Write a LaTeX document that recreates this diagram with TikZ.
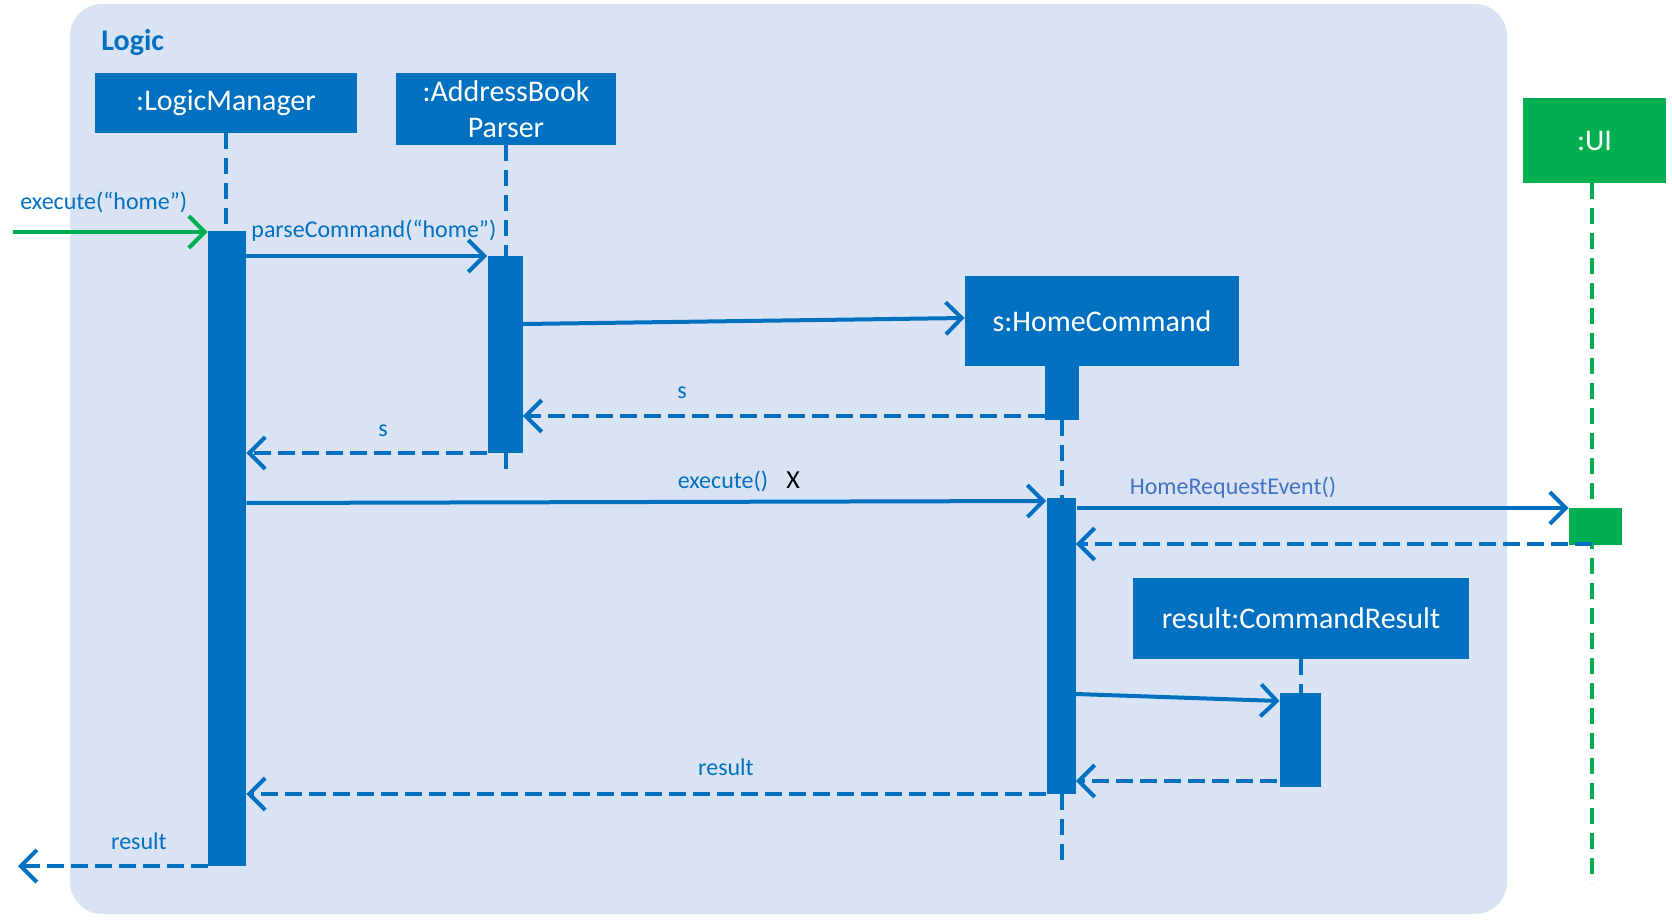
\documentclass[tikz,border=0pt]{standalone}
\usepackage{fontspec}
\setmainfont{Carlito}
\usetikzlibrary{arrows.meta,calc}
\definecolor{blu}{HTML}{0070C0}
\definecolor{bgc}{HTML}{DAE3F3}
\definecolor{grn}{HTML}{00B050}
\definecolor{evc}{HTML}{4472C4}
\begin{document}
\begin{tikzpicture}[x=0.5pt,y=-0.5pt,
 obj/.style={fill=blu, text=white, inner sep=0pt, font=\fontsize{15}{18}\selectfont, align=center},
 uiobj/.style={obj, fill=grn},
 act/.style={fill=blu, inner sep=0pt},
 uiact/.style={fill=grn, inner sep=0pt},
 life/.style={blu, line width=2pt, dash pattern=on 8pt off 4.5pt},
 uilife/.style={life, grn},
 tip/.style={-{Straight Barb[length=8pt,width=16pt,line width=2pt]}},
 msg/.style={blu, line width=2pt, tip},
 ret/.style={msg, line width=2.3pt, dash pattern=on 8.5pt off 3.5pt},
 lbl/.style={text=blu, font=\fontsize{12}{14}\selectfont, inner sep=0pt}
]
\useasboundingbox (0,0) rectangle (1672,922);
% frame
\node (frame) [fill=bgc, rounded corners=16pt, minimum width=718.5pt, minimum height=455pt, inner sep=0pt] at (788.5,459) {};
\node (logic) [anchor=west, text=blu, font=\fontsize{15}{18}\selectfont\bfseries, inner sep=0pt] at (101,43) {Logic};

% objects
\node (lm) [obj, minimum width=131pt, minimum height=30pt] at (226,103) {:LogicManager};
\node (ab) [obj, minimum width=110pt, minimum height=36pt] at (506,109) {:AddressBook\\Parser};
\node (hc) [obj, minimum width=137pt, minimum height=45pt] at (1102,321) {s:HomeCommand};
\node (cr) [obj, minimum width=168pt, minimum height=40.5pt] at (1301,618.5) {result:CommandResult};
\node (ui) [uiobj, minimum width=71.5pt, minimum height=42.5pt] at (1594.5,140.5) {:UI};

% lifeline ends
\coordinate (abEnd) at (506,474);
\coordinate (hcEnd) at (1062,866);
\coordinate (uiTop) at (1592,183);
\coordinate (uiEnd) at (1592,883);

% lifelines
\draw[life] (lm.south) -- (226,240);
\draw[life] (ab.south) -- (506,300);
\draw[life] (506,453) -- (abEnd);
\draw[life] (1062,420) -- (1062,505);
\draw[life] (1062,794) -- (hcEnd);
\draw[life] (cr.south) -- (1301,700);
\draw[uilife] (uiTop) -- (uiEnd);

% activations
\node (lmA) [act, minimum width=19pt, minimum height=317.5pt] at (227,548.5) {};
\node (abA) [act, minimum width=17.5pt, minimum height=98.5pt] at (505,354.5) {};
\node (hcA1) [act, minimum width=17pt, minimum height=27pt] at (1062,393) {};
\node (hcA2) [act, minimum width=14.5pt, minimum height=148pt] at (1061,646) {};
\node (uiA) [uiact, minimum width=26.5pt, minimum height=18.5pt] at (1595.5,526.5) {};
\node (crA) [act, minimum width=20.5pt, minimum height=47pt] at (1300.5,740) {};

% free ends
\coordinate (inStart) at (13,232);
\coordinate (outEnd) at (18,866);

% messages
\draw[grn, line width=2pt, tip] (inStart) -- (lmA.west |- inStart);
\node[lbl, anchor=west] at (20,202) {execute(“home”)};

\draw[msg] (lmA.east |- 0,256) -- (abA.west |- 0,256);
\node[lbl, anchor=west] at (251,231) {parseCommand(“home”)};

\draw[msg] (abA.east |- 0,324) -- (hc.west |- 0,318);

\draw[ret] (hcA1.west |- 0,416) -- (abA.east |- 0,416);
\node[lbl] at (682,393) {s};

\draw[ret] (abA.west |- 0,453) -- (lmA.east |- 0,453);
\node[lbl] at (383,431) {s};

\draw[msg] (lmA.east |- 0,503) -- (hcA2.west |- 0,501);
\node[lbl] at (723,481) {execute()};
\node[font=\fontsize{13}{15}\selectfont, inner sep=0pt] at (793,480) {X};

\draw[msg] (1077,508) -- (uiA.west |- 0,508);
\node[lbl, text=evc] at (1233,488) {HomeRequestEvent()};

\draw[ret] (uiTop |- 0,544) -- (hcA2.east |- 0,544);

\draw[msg] (hcA2.east |- 0,694) -- (crA.west |- 0,701);

\draw[ret] (1277,781) -- (hcA2.east |- 0,781);

\draw[ret] (hcA2.west |- 0,794) -- (lmA.east |- 0,794);
\node[lbl] at (726,767) {result};

\draw[ret] (lmA.west |- outEnd) -- (outEnd);
\node[lbl] at (139,841) {result};
\end{tikzpicture}
\end{document}
